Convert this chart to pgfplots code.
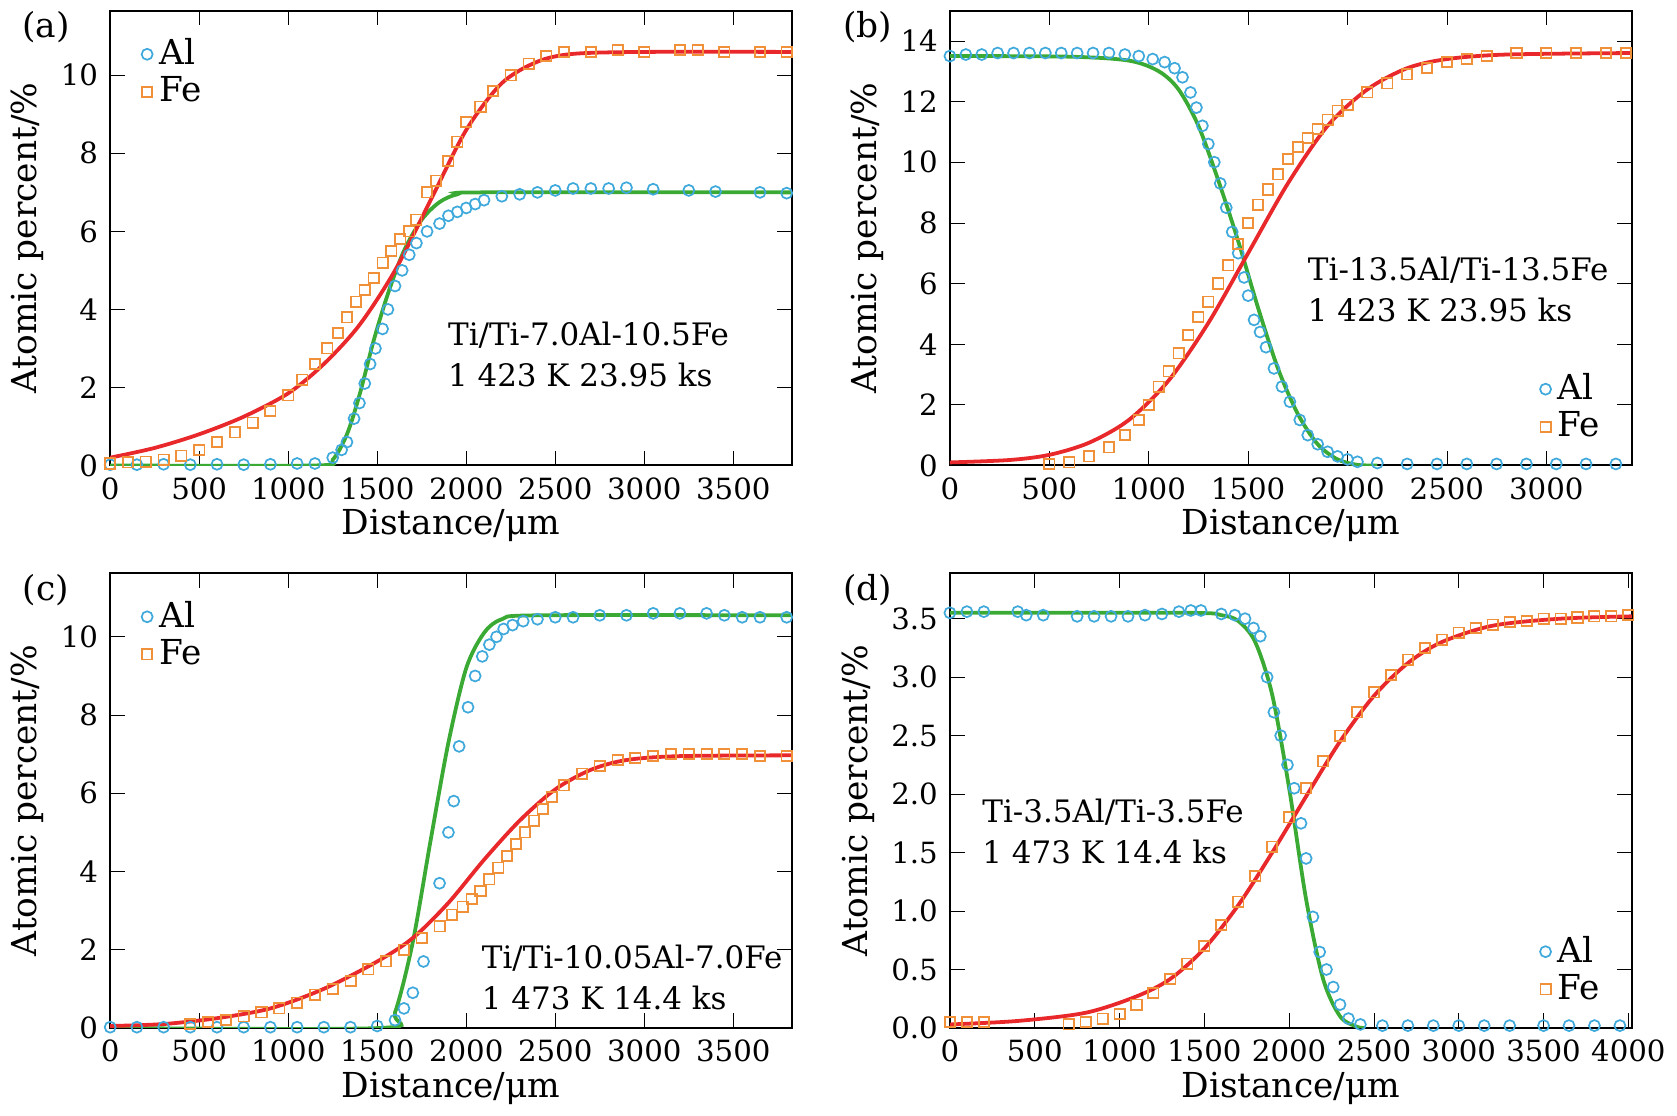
\documentclass[border=0pt]{standalone}
\usepackage{fontspec}
\setmainfont{DejaVu Serif}
\usepackage{pgfplots}
\pgfplotsset{compat=1.18}
\definecolor{alc}{HTML}{3FA9DC}
\definecolor{fec}{HTML}{F0913A}
\definecolor{rl}{HTML}{E8282B}
\definecolor{gl}{HTML}{3AAA35}
\pgfplotsset{
 panel/.style={scale only axis, width=6.97cm, height=4.65cm, anchor=north west,
  tick align=inside, tick style={black}, axis line style={black,line width=0.6pt},
  ylabel={Atomic percent/\%}, xlabel={Distance/μm},
  ylabel style={font=\fontsize{10}{11}\selectfont, yshift=-2pt},
  xlabel style={font=\fontsize{10}{11}\selectfont, yshift=4pt},
  tick label style={font=\fontsize{8.5}{10}\selectfont},
  /pgf/number format/assume math mode=true,
  /pgf/number format/1000 sep={},
  scaled x ticks=false, xmin=0, ymin=0,
  legend style={draw=none, fill=none, font=\fontsize{10}{11}\selectfont, row sep=-2pt},
  legend cell align=left},
 al/.style={only marks, mark=o, mark size=1.6pt, alc, line width=0.5pt},
 fe/.style={only marks, mark=square, mark size=1.5pt, fec, line width=0.5pt},
 rc/.style={rl, line width=1.1pt, smooth, no marks},
 gc/.style={gl, line width=1.1pt, smooth, no marks},
}
\begin{document}
\begin{tikzpicture}
\path (0,0) rectangle (16.77,-11.27);
\node at (0.2,-0.2) {\fontsize{10}{11}\selectfont(a)};
\node at (8.6,-0.2) {\fontsize{10}{11}\selectfont(b)};
\node at (0.2,-5.95) {\fontsize{10}{11}\selectfont(c)};
\node at (8.6,-5.95) {\fontsize{10}{11}\selectfont(d)};
% (a)
\begin{axis}[panel, at={(0.856cm,-0.03cm)}, xmax=3830, ymax=11.66,
 xtick={0,500,...,3500}, ytick={0,2,...,10}, legend pos=north west]
\addplot[al] coordinates {(0,0.02)(150,0.02)(300,0.03)(450,0.02)(600,0.03)(750,0.02)(900,0.03)(1050,0.05)(1150,0.05)(1250,0.2)(1300,0.4)(1330,0.6)(1370,1.2)(1400,1.6)(1430,2.1)(1460,2.6)(1490,3.0)(1530,3.5)(1560,4.0)(1600,4.6)(1640,5.0)(1680,5.4)(1720,5.7)(1780,6.0)(1850,6.2)(1900,6.4)(1950,6.5)(2000,6.6)(2050,6.7)(2100,6.8)(2200,6.9)(2300,6.95)(2400,7.0)(2500,7.05)(2600,7.1)(2700,7.1)(2800,7.1)(2900,7.12)(3050,7.08)(3250,7.05)(3400,7.02)(3650,7.0)(3800,6.98)};
\addplot[fe] coordinates {(0,0.05)(100,0.08)(200,0.1)(300,0.15)(400,0.25)(500,0.4)(600,0.6)(700,0.85)(800,1.1)(900,1.4)(1000,1.8)(1080,2.2)(1150,2.6)(1220,3.0)(1280,3.4)(1330,3.8)(1380,4.2)(1430,4.5)(1480,4.8)(1530,5.2)(1580,5.5)(1630,5.8)(1680,6.0)(1720,6.3)(1780,7.0)(1830,7.3)(1900,7.8)(1950,8.3)(2000,8.8)(2080,9.2)(2150,9.6)(2250,10.0)(2350,10.3)(2450,10.5)(2550,10.6)(2700,10.6)(2850,10.65)(3000,10.6)(3200,10.65)(3300,10.65)(3450,10.6)(3650,10.6)(3800,10.6)};
\addplot[gc] coordinates {(0,0)(1150,0)(1250,0.15)(1330,0.8)(1400,1.8)(1480,3.2)(1560,4.4)(1650,5.5)(1750,6.3)(1850,6.75)(1950,6.95)(2100,7.0)(3830,7.0)};
\addplot[rc] coordinates {(0,0.2)(250,0.45)(500,0.8)(750,1.25)(1000,1.85)(1200,2.6)(1400,3.6)(1600,5.0)(1800,6.8)(2000,8.6)(2200,9.8)(2400,10.35)(2600,10.55)(3000,10.6)(3830,10.6)};
\legend{Al,Fe}
\node[anchor=west, align=left, font=\fontsize{9}{12}\selectfont] at (axis cs:1830,2.85) {Ti/Ti-7.0Al-10.5Fe\\1 423 K 23.95 ks};
\end{axis}
% (b)
\begin{axis}[panel, at={(9.44cm,-0.03cm)}, xmax=3430, ymax=15,
 xtick={0,500,...,3000}, ytick={0,2,...,14}, legend style={at={(0.98,0.02)},anchor=south east}]
\addplot[al] coordinates {(0,13.5)(80,13.55)(160,13.55)(240,13.6)(320,13.6)(400,13.6)(480,13.6)(560,13.6)(640,13.6)(720,13.6)(800,13.6)(880,13.55)(950,13.5)(1020,13.4)(1080,13.3)(1130,13.1)(1170,12.8)(1210,12.3)(1240,11.8)(1270,11.2)(1300,10.6)(1330,10.0)(1360,9.3)(1390,8.5)(1420,7.7)(1450,7.0)(1480,6.2)(1500,5.6)(1530,4.8)(1560,4.4)(1590,3.9)(1630,3.2)(1670,2.6)(1710,2.1)(1760,1.5)(1800,1.0)(1850,0.7)(1900,0.45)(1950,0.3)(2000,0.2)(2050,0.12)(2150,0.08)(2300,0.05)(2450,0.05)(2600,0.05)(2750,0.05)(2900,0.05)(3050,0.05)(3200,0.05)(3350,0.05)};
\addplot[fe] coordinates {(500,0.05)(600,0.1)(700,0.3)(800,0.6)(880,1.0)(950,1.5)(1000,2.0)(1050,2.6)(1100,3.1)(1150,3.7)(1200,4.3)(1250,4.9)(1300,5.4)(1350,6.0)(1400,6.6)(1450,7.3)(1500,8.0)(1550,8.6)(1600,9.1)(1650,9.6)(1700,10.1)(1750,10.5)(1800,10.8)(1850,11.1)(1900,11.4)(1950,11.7)(2000,11.9)(2100,12.3)(2200,12.6)(2300,12.9)(2400,13.1)(2500,13.3)(2600,13.4)(2700,13.5)(2850,13.6)(3000,13.6)(3150,13.6)(3300,13.6)(3400,13.6)};
\addplot[gc] coordinates {(0,13.5)(600,13.48)(900,13.35)(1050,13.0)(1150,12.4)(1250,11.2)(1350,9.4)(1450,7.4)(1550,5.2)(1650,3.2)(1750,1.7)(1850,0.7)(1950,0.2)(2050,0.02)(2150,0)};
\addplot[rc] coordinates {(0,0.1)(300,0.18)(500,0.35)(700,0.75)(900,1.5)(1100,2.8)(1300,4.7)(1500,7.0)(1700,9.3)(1900,11.2)(2100,12.4)(2300,13.1)(2500,13.4)(2800,13.55)(3430,13.6)};
\legend{Al,Fe}
\node[anchor=west, align=left, font=\fontsize{9}{12}\selectfont] at (axis cs:1740,5.8) {Ti-13.5Al/Ti-13.5Fe\\1 423 K 23.95 ks};
\end{axis}
% (c)
\begin{axis}[panel, at={(0.856cm,-5.78cm)}, xmax=3830, ymax=11.63,
 xtick={0,500,...,3500}, ytick={0,2,...,10}, legend pos=north west]
\addplot[al] coordinates {(0,0.02)(150,0.02)(300,0.02)(450,0.02)(600,0.02)(750,0.02)(900,0.02)(1050,0.02)(1200,0.02)(1350,0.02)(1500,0.05)(1600,0.2)(1650,0.5)(1700,0.9)(1760,1.7)(1850,3.7)(1900,5.0)(1930,5.8)(1960,7.2)(2010,8.2)(2050,9.0)(2090,9.5)(2130,9.8)(2170,10.0)(2210,10.2)(2260,10.3)(2320,10.4)(2400,10.45)(2500,10.5)(2600,10.5)(2750,10.55)(2900,10.55)(3050,10.6)(3200,10.6)(3350,10.6)(3450,10.55)(3550,10.5)(3650,10.5)(3800,10.5)};
\addplot[fe] coordinates {(450,0.1)(550,0.15)(650,0.2)(750,0.3)(850,0.4)(950,0.5)(1050,0.65)(1150,0.85)(1250,1.0)(1350,1.2)(1450,1.5)(1550,1.7)(1650,2.0)(1750,2.3)(1850,2.6)(1920,2.9)(1980,3.1)(2030,3.3)(2080,3.5)(2130,3.8)(2180,4.1)(2230,4.4)(2280,4.7)(2330,5.0)(2380,5.3)(2430,5.6)(2480,5.9)(2550,6.2)(2650,6.5)(2750,6.7)(2850,6.85)(2950,6.9)(3050,6.95)(3150,7.0)(3250,7.0)(3350,7.0)(3450,7.0)(3550,7.0)(3650,6.95)(3800,6.95)};
\addplot[gc] coordinates {(0,0)(1520,0)(1600,0.4)(1700,2.2)(1800,4.8)(1900,7.3)(2000,9.2)(2100,10.1)(2200,10.45)(2400,10.55)(3830,10.55)};
\addplot[rc] coordinates {(0,0.05)(300,0.1)(600,0.25)(900,0.5)(1200,1.0)(1500,1.7)(1700,2.3)(1900,3.2)(2100,4.3)(2300,5.3)(2500,6.1)(2700,6.6)(2900,6.85)(3200,6.95)(3830,6.97)};
\legend{Al,Fe}
\node[anchor=west, align=left, font=\fontsize{9}{12}\selectfont] at (axis cs:2020,1.3) {Ti/Ti-10.05Al-7.0Fe\\1 473 K 14.4 ks};
\end{axis}
% (d)
\begin{axis}[panel, at={(9.44cm,-5.78cm)}, xmax=4020, ymax=3.89,
 xtick={0,500,...,4000}, ytick={0,0.5,...,3.5},
 yticklabel style={/pgf/number format/.cd, fixed, fixed zerofill, precision=1},
 legend style={at={(0.98,0.02)},anchor=south east}]
\addplot[al] coordinates {(0,3.55)(100,3.56)(200,3.56)(400,3.56)(450,3.53)(550,3.53)(750,3.52)(850,3.52)(950,3.52)(1050,3.52)(1150,3.53)(1250,3.54)(1350,3.56)(1420,3.57)(1480,3.57)(1600,3.54)(1680,3.53)(1740,3.5)(1790,3.42)(1830,3.35)(1870,3.0)(1910,2.7)(1950,2.5)(1990,2.25)(2030,2.05)(2070,1.75)(2100,1.45)(2140,0.95)(2180,0.65)(2220,0.5)(2260,0.35)(2300,0.2)(2350,0.08)(2420,0.03)(2550,0.02)(2700,0.02)(2850,0.02)(3000,0.02)(3150,0.02)(3300,0.02)(3500,0.02)(3650,0.02)(3800,0.02)(3950,0.02)};
\addplot[fe] coordinates {(0,0.05)(100,0.05)(200,0.05)(700,0.03)(800,0.05)(900,0.08)(1000,0.12)(1100,0.2)(1200,0.3)(1300,0.42)(1400,0.55)(1500,0.7)(1600,0.88)(1700,1.08)(1800,1.3)(1900,1.55)(2000,1.8)(2100,2.05)(2200,2.28)(2300,2.5)(2400,2.7)(2500,2.87)(2600,3.02)(2700,3.15)(2800,3.25)(2900,3.32)(3000,3.38)(3100,3.42)(3200,3.45)(3300,3.47)(3400,3.48)(3500,3.5)(3600,3.5)(3700,3.51)(3800,3.52)(3900,3.52)(4000,3.53)};
\addplot[gc] coordinates {(0,3.55)(1400,3.55)(1600,3.53)(1700,3.48)(1800,3.3)(1900,2.85)(2000,2.05)(2100,1.1)(2200,0.42)(2300,0.1)(2400,0.01)(2450,0)};
\addplot[rc] coordinates {(0,0.03)(400,0.06)(800,0.13)(1100,0.27)(1300,0.42)(1500,0.68)(1700,1.05)(1900,1.5)(2100,1.98)(2300,2.45)(2500,2.84)(2700,3.12)(2900,3.3)(3200,3.44)(3600,3.5)(4020,3.52)};
\legend{Al,Fe}
\node[anchor=west, align=left, font=\fontsize{9}{12}\selectfont] at (axis cs:120,1.68) {Ti-3.5Al/Ti-3.5Fe\\1 473 K 14.4 ks};
\end{axis}
\end{tikzpicture}
\end{document}
